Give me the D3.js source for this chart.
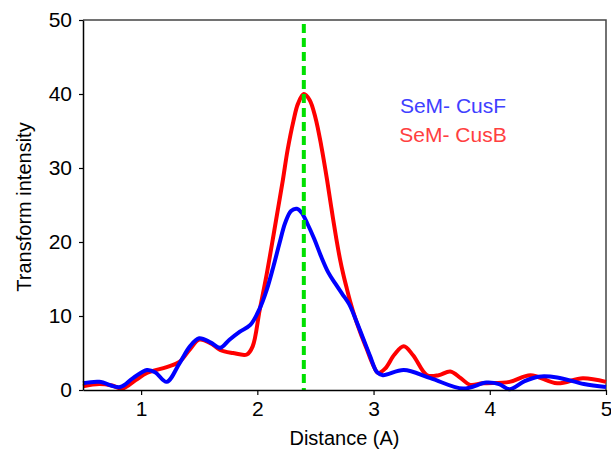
<!DOCTYPE html>
<html lang="en">
<head>
    <meta charset="UTF-8">
    <title>Transform intensity</title>
    <script src="https://d3js.org/d3.v7.min.js"></script>
    <style>
        body { margin: 0; background: #fff; }
        text { font-family: "Liberation Sans", Arial, sans-serif; }
    </style>
</head>
<body>
    <div id="chart"></div>
    <script>
        // Data (distance in A, intensity)
        const cusF = [
            [0.5, 0.9], [0.64, 1.1], [0.82, 0.4], [0.93, 1.6], [1.05, 2.7], [1.12, 2.4],
            [1.22, 1.1], [1.33, 3.6], [1.42, 5.9], [1.5, 7.0], [1.6, 6.4], [1.68, 5.7],
            [1.76, 6.8], [1.85, 7.9], [1.94, 8.8], [2.02, 11.0], [2.08, 13.5], [2.14, 16.8],
            [2.19, 19.8], [2.24, 22.6], [2.29, 24.2], [2.34, 24.5], [2.38, 24.0], [2.43, 22.5],
            [2.49, 20.4], [2.55, 18.0], [2.61, 15.9], [2.67, 14.4], [2.73, 13.0], [2.79, 11.6],
            [2.85, 9.4], [2.91, 7.0], [2.97, 4.6], [3.03, 2.4], [3.08, 2.0],
            [3.26, 2.7], [3.49, 1.6], [3.77, 0.2], [3.97, 1.0], [4.08, 0.8], [4.17, 0.1],
            [4.30, 1.2], [4.42, 1.8], [4.58, 1.7], [4.81, 0.8], [5.0, 0.4]
        ];
        const cusB = [
            [0.5, 0.5], [0.64, 0.8], [0.75, 0.6], [0.84, 0.2], [0.95, 1.3], [1.05, 2.3],
            [1.22, 3.1], [1.33, 3.8], [1.42, 5.5], [1.5, 6.8], [1.6, 6.3], [1.68, 5.4],
            [1.79, 5.0], [1.91, 4.8], [1.96, 5.9], [2.02, 10.8], [2.08, 15.6], [2.14, 21.0],
            [2.18, 24.7], [2.22, 28.4], [2.26, 32.4], [2.31, 36.3], [2.35, 38.7], [2.40, 40.0],
            [2.45, 39.2], [2.50, 36.8], [2.55, 33.0], [2.60, 28.4], [2.64, 24.3], [2.68, 20.4],
            [2.71, 17.8], [2.74, 15.6], [2.77, 13.7], [2.80, 11.9], [2.84, 9.8], [2.89, 7.6],
            [2.94, 5.6], [2.99, 3.6], [3.04, 2.3], [3.10, 2.9], [3.18, 4.8], [3.26, 5.9],
            [3.34, 4.7], [3.46, 2.0], [3.56, 2.0], [3.66, 2.5], [3.75, 1.6], [3.83, 0.7],
            [3.94, 0.9], [4.17, 1.1], [4.35, 2.0], [4.58, 0.9], [4.80, 1.6], [5.0, 1.1]
        ];
        const markerX = 2.4;
        const xTicks = [1, 2, 3, 4, 5];
        const yTicks = [0, 10, 20, 30, 40, 50];
        const legendItems = [
            { label: "SeM- CusF", color: "#4040ff" },
            { label: "SeM- CusB", color: "#ff4040" }
        ];

        const W = 611, H = 450;
        const margin = { top: 20, right: 5, bottom: 60, left: 83 };
        const width = W - margin.left - margin.right;
        const height = H - margin.top - margin.bottom;

        const svg = d3.select("#chart").append("svg")
            .attr("width", W)
            .attr("height", H);
        const g = svg.append("g")
            .attr("transform", `translate(${margin.left},${margin.top})`);

        const x = d3.scaleLinear().domain([0.5, 5]).range([0, width]);
        const y = d3.scaleLinear().domain([0, 50]).range([height, 0]);

        // frame on top and right
        g.append("path")
            .attr("d", `M0,0H${width}V${height}`)
            .attr("fill", "none")
            .attr("stroke", "#444")
            .attr("stroke-width", 1.5);

        const line = d3.line()
            .x(d => x(d[0]))
            .y(d => y(d[1]))
            .curve(d3.curveCatmullRom.alpha(0.5));

        g.append("path")
            .datum(cusB)
            .attr("fill", "none")
            .attr("stroke", "#ff0000")
            .attr("stroke-width", 4)
            .attr("stroke-linejoin", "round")
            .attr("d", line);

        g.append("path")
            .datum(cusF)
            .attr("fill", "none")
            .attr("stroke", "#0000ff")
            .attr("stroke-width", 4)
            .attr("stroke-linejoin", "round")
            .attr("d", line);

        // green dashed marker
        g.append("line")
            .attr("x1", x(markerX))
            .attr("x2", x(markerX))
            .attr("y1", 4)
            .attr("y2", height)
            .attr("stroke", "#00e000")
            .attr("stroke-width", 4)
            .attr("stroke-dasharray", "9,5");

        // axes
        const xAxis = g.append("g")
            .attr("transform", `translate(0,${height})`)
            .call(d3.axisBottom(x).tickValues(xTicks).tickFormat(d3.format("d")).tickSize(5).tickSizeOuter(0).tickPadding(6));
        const yAxis = g.append("g")
            .call(d3.axisLeft(y).tickValues(yTicks).tickSize(4).tickSizeOuter(0).tickPadding(7));

        [xAxis, yAxis].forEach(a => {
            a.select(".domain").attr("stroke", "#000").attr("stroke-width", 1.5);
            a.selectAll(".tick line").attr("stroke", "#000").attr("stroke-width", 1.2);
            a.selectAll("text")
                .attr("fill", "#000")
                .style("font-size", "21px")
                .style("font-family", "'Liberation Sans', Arial, sans-serif");
        });

        svg.append("text")
            .attr("x", margin.left + x(2.75))
            .attr("y", 445)
            .attr("text-anchor", "middle")
            .style("font-size", "20px")
            .text("Distance (A)");

        svg.append("text")
            .attr("transform", `translate(31,207) rotate(-90)`)
            .attr("text-anchor", "middle")
            .style("font-size", "20px")
            .text("Transform intensity");

        // legend
        g.selectAll(".legend")
            .data(legendItems)
            .enter().append("text")
            .attr("class", "legend")
            .attr("x", 370)
            .attr("y", (d, i) => 93 + i * 29)
            .attr("text-anchor", "middle")
            .attr("fill", d => d.color)
            .style("font-size", "21px")
            .text(d => d.label);
    </script>
</body>
</html>
